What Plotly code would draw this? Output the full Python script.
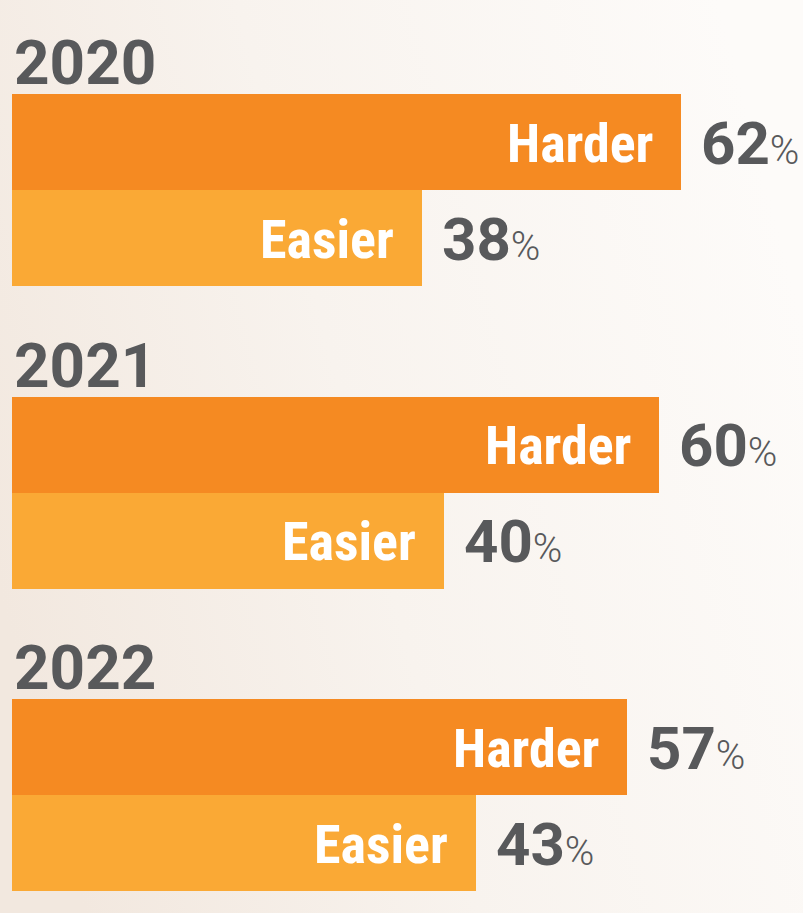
import base64
import plotly.graph_objects as go

years = ["2020", "2021", "2022"]
harder = [62, 60, 57]
easier = [38, 40, 43]
labels = ["Harder", "Easier"]

HARD_C = "#F58A22"
EASY_C = "#FAA935"
TEXT_C = "#58595B"

W, H = 803, 913
px_per_pct = 10.79
x0_px = 12
bar_px = 96
group_px = 302.5
first_top_px = 94

u = 1.0  # one bar height in y units
y_center_h = [(first_top_px + g * group_px) / bar_px + 0.5 for g in range(len(years))]
y_center_e = [c + u for c in y_center_h]

svg = f'''<svg xmlns="http://www.w3.org/2000/svg" width="{W}" height="{H}" preserveAspectRatio="none">
<defs><linearGradient id="g" x1="0" y1="0.65" x2="1" y2="0.35">
<stop offset="0" stop-color="#F2E8DF"/>
<stop offset="0.45" stop-color="#F8F3EE"/>
<stop offset="1" stop-color="#FDFBF9"/>
</linearGradient></defs>
<rect width="{W}" height="{H}" fill="url(#g)"/></svg>'''
src = "data:image/svg+xml;base64," + base64.b64encode(svg.encode()).decode()

fig = go.Figure()
fig.add_trace(go.Bar(x=harder, y=y_center_h, orientation="h", width=u,
                     marker=dict(color=HARD_C, line=dict(width=0)), hoverinfo="skip"))
fig.add_trace(go.Bar(x=easier, y=y_center_e, orientation="h", width=u,
                     marker=dict(color=EASY_C, line=dict(width=0)), hoverinfo="skip"))

cond = "Roboto Condensed, Liberation Sans Narrow, DejaVu Sans Condensed, Roboto"
ann = []
for i, yr in enumerate(years):
    ann.append(dict(x=0, y=y_center_h[i] - 0.5, text=f"<b>{yr}</b>", showarrow=False,
                    xanchor="left", yanchor="bottom", xshift=0, yshift=-7,
                    font=dict(family="Roboto", size=62, color=TEXT_C)))
    for vals, yc, lab in ((harder, y_center_h, labels[0]), (easier, y_center_e, labels[1])):
        v = vals[i]
        ann.append(dict(x=v, y=yc[i], text=f"<b>{lab}</b>", showarrow=False,
                        xanchor="right", yanchor="middle", xshift=-26, yshift=-1,
                        font=dict(family=cond, size=54, color="white")))
        ann.append(dict(x=v, y=yc[i],
                        text=f"<b>{v}</b><span style='font-size:40px;font-weight:300'>%</span>",
                        showarrow=False, xanchor="left", yanchor="middle", xshift=18, yshift=-1,
                        font=dict(family="Roboto", size=60, color=TEXT_C)))

fig.update_layout(
    width=W, height=H, margin=dict(l=0, r=0, t=0, b=0),
    paper_bgcolor="rgba(0,0,0,0)", plot_bgcolor="rgba(0,0,0,0)",
    showlegend=False, barmode="overlay", bargap=0,
    xaxis=dict(range=[-x0_px / px_per_pct, (W - x0_px) / px_per_pct], visible=False, fixedrange=True),
    yaxis=dict(range=[H / bar_px, 0], visible=False, fixedrange=True),
    annotations=ann,
    images=[dict(source=src, xref="paper", yref="paper", x=0, y=1, sizex=1, sizey=1,
                 sizing="stretch", layer="below", xanchor="left", yanchor="top")],
)
fig.write_html("out.html", config={"displayModeBar": False},
               post_script="document.body.style.margin='0';document.body.style.background='#F8F3EE';")
